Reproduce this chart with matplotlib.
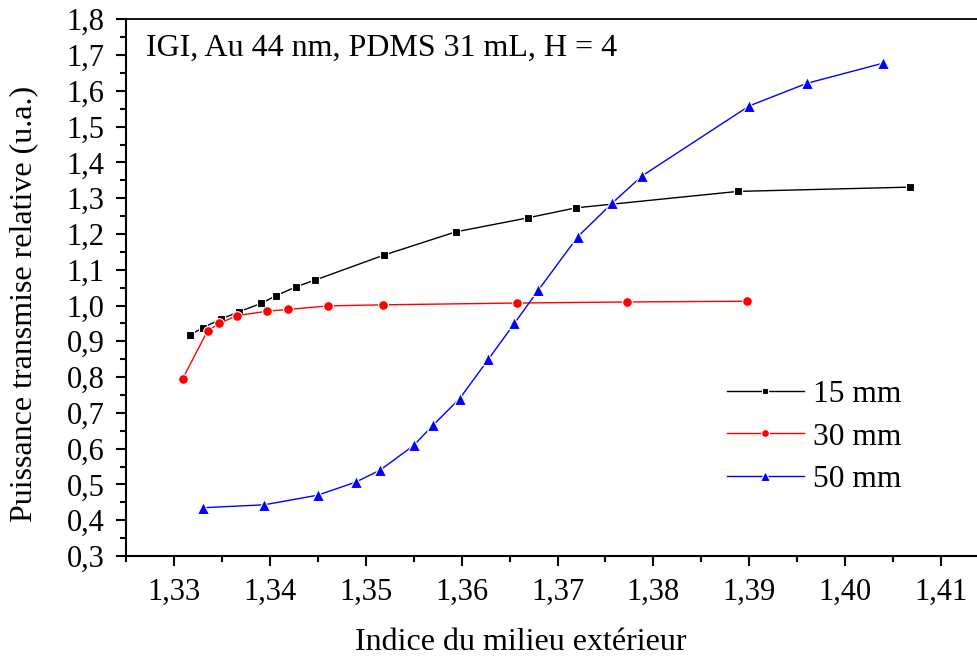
import matplotlib
matplotlib.use("Agg")
import matplotlib.pyplot as plt
from matplotlib.ticker import MultipleLocator, FuncFormatter

plt.rcParams['font.family'] = ['Liberation Serif', 'DejaVu Serif']

# 15 mm
x15 = [1.3317, 1.3330, 1.3349, 1.3368, 1.3391, 1.3406, 1.3427, 1.3447,
       1.3519, 1.3594, 1.3669, 1.3719, 1.3888, 1.4068]
y15 = [0.918, 0.938, 0.962, 0.983, 1.006, 1.027, 1.052, 1.071,
       1.141, 1.206, 1.245, 1.273, 1.319, 1.331]
# 30 mm
x30 = [1.3309, 1.3335, 1.3347, 1.3366, 1.3397, 1.3419, 1.3461, 1.3518,
       1.3658, 1.3773, 1.3898]
y30 = [0.795, 0.929, 0.950, 0.972, 0.984, 0.989, 0.999, 1.002,
       1.007, 1.010, 1.012]
# 50 mm
x50 = [1.3330, 1.3394, 1.3450, 1.3490, 1.3515, 1.3550, 1.3570, 1.3598,
       1.3628, 1.3655, 1.3680, 1.3721, 1.3757, 1.3788, 1.3900, 1.3960, 1.4039]
y50 = [0.435, 0.443, 0.470, 0.507, 0.540, 0.609, 0.665, 0.740,
       0.850, 0.950, 1.043, 1.192, 1.286, 1.362, 1.558, 1.621, 1.677]

labels = ['15 mm', '30 mm', '50 mm']
title_text = 'IGI, Au 44 nm, PDMS 31 mL, H = 4'
xlabel = 'Indice du milieu extérieur'
ylabel = 'Puissance transmise relative (u.a.)'

W, H = 978, 657
fig = plt.figure(figsize=(W / 100, H / 100), dpi=100)
left, right, top, bottom = 126, 989, 19.3, 556
ax = fig.add_axes([left / W, 1 - bottom / H, (right - left) / W, (bottom - top) / H])

ms_kw = dict(markeredgecolor='white', markeredgewidth=0.8)
ax.plot(x15, y15, color='black', lw=1.0, marker='s', ms=6, label=labels[0], **ms_kw)
ax.plot(x30, y30, color='red', lw=1.0, marker='o', ms=7, label=labels[1], **ms_kw)
ax.plot(x50, y50, color='blue', lw=1.0, marker='^', ms=9, label=labels[2], **ms_kw)

ax.set_xlim(1.325, 1.415)
ax.set_ylim(0.3, 1.8)
ax.xaxis.set_major_locator(MultipleLocator(0.01))
ax.xaxis.set_minor_locator(MultipleLocator(0.005))
ax.yaxis.set_major_locator(MultipleLocator(0.1))
ax.yaxis.set_minor_locator(MultipleLocator(0.05))
ax.xaxis.set_major_formatter(FuncFormatter(lambda v, p: f'{v:.2f}'.replace('.', ',')))
ax.yaxis.set_major_formatter(FuncFormatter(lambda v, p: f'{v:.1f}'.replace('.', ',')))

ax.tick_params(which='major', direction='out', length=7.5, width=1.5, labelsize=22, pad=8)
ax.tick_params(which='minor', direction='out', length=4.3, width=1.5)
ax.tick_params(top=False, right=False)
for s in ['left', 'bottom']:
    ax.spines[s].set_linewidth(1.5)
ax.spines['top'].set_linewidth(1.3)
ax.spines['right'].set_visible(False)

ax.set_xlabel(xlabel, fontsize=23)
ax.xaxis.set_label_coords((521 - left) / (right - left), -0.135)
ax.set_ylabel(ylabel, fontsize=23)
ax.yaxis.set_label_coords(-0.102, (bottom - 304) / (bottom - top))

ax.text((146 - left) / (right - left), (bottom - 48) / (bottom - top), title_text,
        transform=ax.transAxes, fontsize=23, ha='left', va='center')

leg = ax.legend(loc='center left', bbox_to_anchor=((727 - left) / (right - left), (bottom - 437) / (bottom - top)),
                frameon=False, fontsize=22.7, handlelength=2.44, handletextpad=0.28,
                labelspacing=0.42, borderpad=0, borderaxespad=0, markerscale=0.8)

fig.savefig('out.png', dpi=100)
